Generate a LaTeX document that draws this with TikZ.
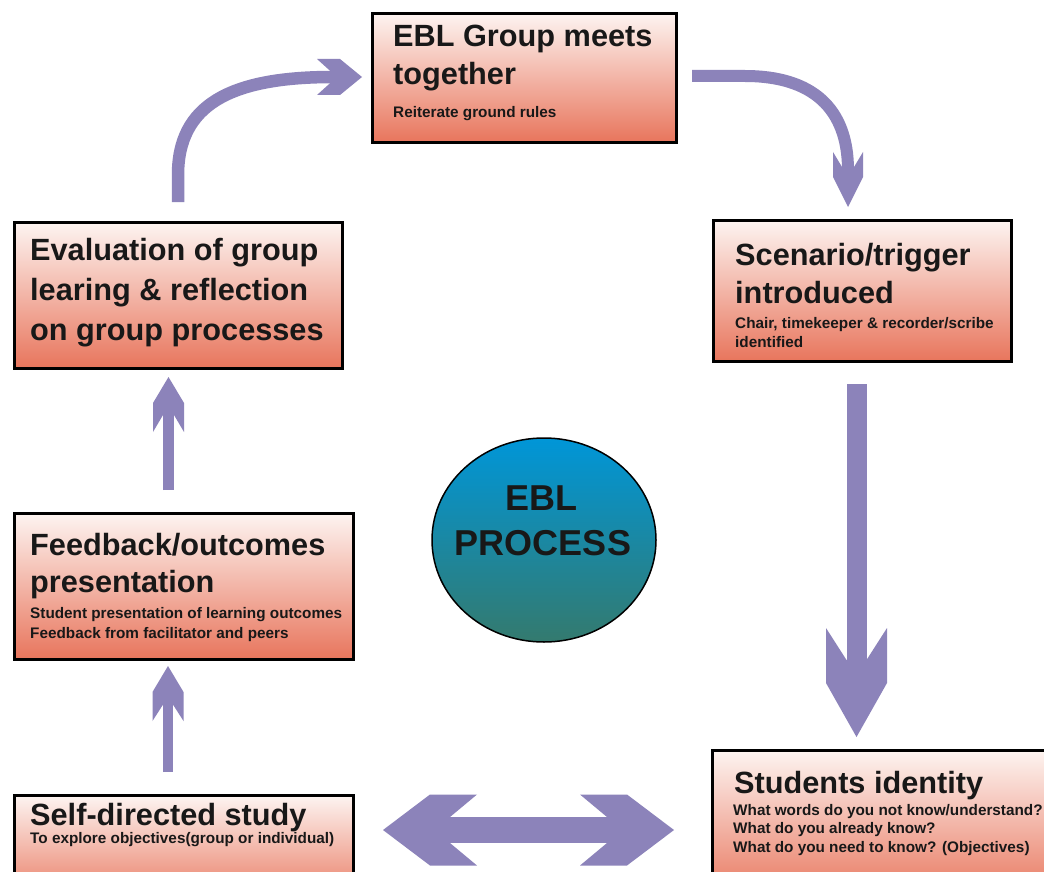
\documentclass[tikz,border=0pt]{standalone}
\usepackage{fontspec}
\setmainfont{Liberation Sans}
\usetikzlibrary{shapes.geometric}
\definecolor{arrc}{RGB}{140,131,186}
\definecolor{boxtop}{RGB}{253,244,241}
\definecolor{boxbot}{RGB}{232,117,92}
\definecolor{elltop}{RGB}{0,150,216}
\definecolor{ellbot}{RGB}{52,122,110}
\definecolor{txt}{RGB}{24,24,24}
\tikzset{
  box/.style={draw=black, line width=2.6pt, top color=boxtop, bottom color=boxbot, anchor=north west, inner sep=0pt},
  ttl/.style={anchor=base west, inner sep=0pt, font=\fontsize{30.7}{36}\selectfont\bfseries, text=txt},
  sub/.style={anchor=base west, inner sep=0pt, font=\fontsize{15.3}{18}\selectfont\bfseries, text=txt},
  etxt/.style={anchor=base, inner sep=0pt, font=\fontsize{36}{42}\selectfont\bfseries, text=txt},
  shaft/.style={draw=arrc, line cap=butt},
  arr/.style={fill=arrc},
}
\newcommand\fathead[7]{%
  \fill[arr, shift={(#1)}, rotate=#2] (0,0) -- (-#5,#4) -- ({-(#5)-(#6)},#4) -- ({-(#5)-(#6)+(#7)},#3) -- ({-(#5)-(#6)+(#7)},-#3) -- ({-(#5)-(#6)},-#4) -- (-#5,-#4) -- cycle;}
\begin{document}
\begin{tikzpicture}[x=1pt,y=-1pt]
\useasboundingbox (0,0) rectangle (1044,872);
\clip (0,0) rectangle (1044,872);
\fill[white] (0,0) rectangle (1044,872);

% boxes
\node[box, minimum width=304pt, minimum height=129pt] (b1) at (371,12) {};
\node[box, minimum width=298pt, minimum height=141pt] (b2) at (712,219) {};
\node[box, minimum width=360pt, minimum height=150pt] (b3) at (711,749) {};
\node[box, minimum width=339pt, minimum height=110pt] (b4) at (13,794) {};
\node[box, minimum width=339pt, minimum height=146pt] (b5) at (13,512) {};
\node[box, minimum width=328pt, minimum height=146pt] (b6) at (13,221) {};

% ellipse
\node[draw=black, line width=1.5pt, ellipse, minimum width=224pt, minimum height=204pt, top color=elltop, bottom color=ellbot] (e) at (544,540) {};
\node[etxt] (e1) at (541,510) {EBL};
\node[etxt] (e2) at (543,555) {PROCESS};

% texts
\node[ttl] (t1a) at (393,47) {EBL Group meets};
\node[ttl] (t1b) at (393,85) {together};
\node[sub] (t1c) at (393,118) {Reiterate ground rules};

\node[ttl] (t2a) at (735,265) {Scenario/trigger};
\node[ttl] (t2b) at (735,303) {introduced};
\node[sub] (t2c) at (735,328) {Chair, timekeeper \& recorder/scribe};
\node[sub] (t2d) at (735,347) {identified};

\node[ttl] (t3a) at (734,793) {Students identity};
\node[sub] (t3b) at (733,815) {What words do you not know/understand?};
\node[sub] (t3c) at (733,833) {What do you already know?};
\node[sub] (t3d) at (733,852) {What do you need to know? (Objectives)};

\node[ttl] (t4a) at (30,825) {Self-directed study};
\node[sub] (t4b) at (30,843) {To explore objectives(group or individual)};

\node[ttl] (t5a) at (30,555) {Feedback/outcomes};
\node[ttl] (t5b) at (30,592) {presentation};
\node[sub] (t5c) at (30,618) {Student presentation of learning outcomes};
\node[sub] (t5d) at (30,638) {Feedback from facilitator and peers};

\node[ttl] (t6a) at (30,260) {Evaluation of group};
\node[ttl] (t6b) at (30,300) {learing \& reflection};
\node[ttl] (t6c) at (30,340) {on group processes};

% arrows
\coordinate (sA) at (856.5,384); \coordinate (nA) at (856.5,665); \coordinate (tA) at (856.5,737);
\draw[shaft, line width=20pt] (sA) -- (nA);
\fathead{tA}{-90}{10}{30.5}{54}{55}{32}

\coordinate (sB) at (168.5,490); \coordinate (nB) at (168.5,412); \coordinate (tB) at (168.5,377);
\draw[shaft, line width=11pt] (sB) -- (nB);
\fathead{tB}{90}{5.5}{15.5}{26}{29}{17}

\coordinate (sC) at (168,772); \coordinate (nC) at (168,701); \coordinate (tC) at (168,666);
\draw[shaft, line width=10.5pt] (sC) -- (nC);
\fathead{tC}{90}{5.25}{15.5}{26}{29}{16}

\coordinate (tL) at (383,830); \coordinate (tR) at (674,830);
\coordinate (nL) at (447,830); \coordinate (nR) at (610,830);
\draw[shaft, line width=26pt] (nL) -- (nR);
\fathead{tL}{180}{13}{35.5}{47}{47}{27}
\fathead{tR}{0}{13}{35.5}{47}{47}{27}

\coordinate (sE) at (178,202); \coordinate (nE) at (333,77); \coordinate (tE) at (362,77);
\draw[shaft, line width=12.5pt] (sE) -- (178,175) .. controls (178,105) and (230,77) .. (nE);
\fathead{tE}{0}{6.25}{18}{22}{23}{13}

\coordinate (sF) at (692,76); \coordinate (nF) at (848,170); \coordinate (tF) at (848,207);
\draw[shaft, line width=12pt] (sF) -- (745,76) .. controls (812,76) and (848,108) .. (nF);
\fathead{tF}{-90}{6}{15}{30}{25}{15}
\end{tikzpicture}
\end{document}
